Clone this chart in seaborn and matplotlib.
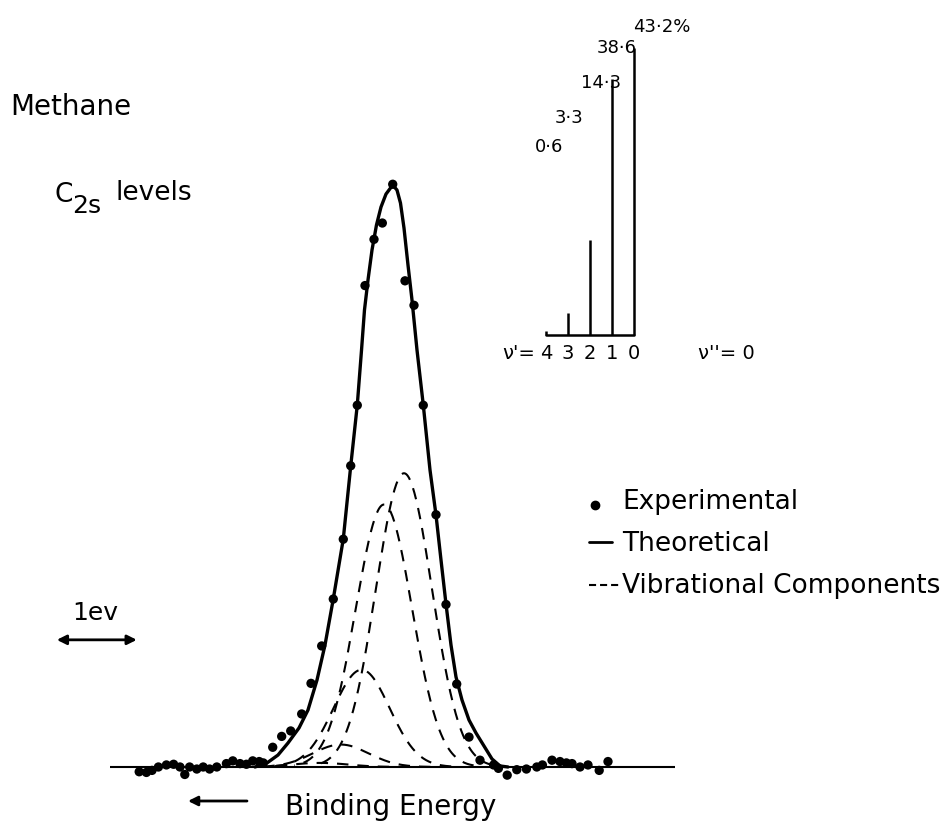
import numpy as np
import pandas as pd
import matplotlib
matplotlib.use("Agg")
import matplotlib.pyplot as plt
from matplotlib.lines import Line2D
from matplotlib import font_manager
import seaborn as sns

# ---------------- data ----------------
# relative energy in eV (positive = higher binding energy, drawn to the left), intensity in %
exp_energy = [3.31, 3.22, 3.15, 3.07, 2.97, 2.88, 2.80, 2.74, 2.68, 2.59, 2.51, 2.43, 2.34,
              2.22, 2.14, 2.05, 1.97, 1.891, 1.81, 1.759, 1.641, 1.529, 1.416, 1.279, 1.1625,
              1.029, 0.884, 0.759, 0.666, 0.584, 0.4875, 0.375, 0.271, 0.141, -0.0125, -0.125,
              -0.241, -0.40, -0.525, -0.659, -0.8125, -0.95, -1.12, -1.18, -1.29, -1.41, -1.53,
              -1.66, -1.73, -1.85, -1.95, -2.03, -2.10, -2.20, -2.30, -2.44, -2.55]
exp_intensity = [-0.7, -0.8, -0.5, 0.0, 0.3, 0.4, 0.0, -1.1, 0.0, -0.3, 0.0, -0.3, 0.0,
                 0.5, 0.9, 0.5, 0.4, 0.9, 0.8, 0.6, 2.9, 4.5, 5.3, 7.8, 12.3,
                 17.8, 24.7, 33.5, 44.3, 53.2, 70.8, 77.6, 80.0, 85.7, 71.5, 67.9,
                 53.2, 37.1, 23.9, 12.2, 4.4, 1.0, 0.3, -0.2, -1.2, -0.4, -0.3,
                 0.0, 0.3, 1.0, 0.8, 0.6, 0.5, 0.0, 0.3, -0.5, 0.8]

theory_energy = [1.8625, 1.7125, 1.575, 1.45, 1.3125, 1.2, 1.0875, 0.9875, 0.884, 0.759,
                 0.666, 0.584, 0.531, 0.494, 0.45, 0.40, 0.344, 0.2875, 0.225, 0.141,
                 0.0875, 0.044, 0.0, -0.05, -0.10, -0.1625, -0.241, -0.325, -0.40, -0.4625,
                 -0.525, -0.5875, -0.65, -0.725, -0.8125, -0.90, -1.0, -1.1, -1.2, -1.3]
theory_intensity = [0.0, 0.59, 1.76, 3.53, 5.74, 8.38, 12.79, 17.94, 24.71, 33.53,
                    44.26, 53.24, 61.32, 67.21, 71.62, 76.03, 79.71, 82.35, 84.26, 85.59,
                    84.85, 82.94, 79.26, 73.82, 68.68, 61.32, 53.24, 43.68, 37.06, 30.44,
                    23.97, 17.94, 13.24, 9.85, 6.91, 5.0, 3.09, 1.18, 0.15, 0.0]

vib_levels = [0, 1, 2, 3, 4]
fc_percent = [43.2, 38.6, 14.3, 3.3, 0.6]
fc_labels = ["43·2%", "38·6", "14·3", "3·3", "0·6"]
component_shift = [0.0, 0.25, 0.53, 0.79, 1.05]   # eV
component_sigma = 0.35                              # eV
baseline_extent = (3.68, -3.39)                     # eV span of the zero line
one_ev = 1.0

# ---------------- layout helpers ----------------
W, H = 950, 822
def fx(x):
    return x / W
def fy(y):
    return 1 - y / H

sns.set_style("white")
plt.rcParams['font.family'] = ['DejaVu Sans']
plt.rcParams['text.color'] = 'black'
names = {f.name for f in font_manager.fontManager.ttflist}
narrow = 'Liberation Sans Narrow' if 'Liberation Sans Narrow' in names else 'DejaVu Sans'
pct_size = 16 if narrow != 'DejaVu Sans' else 13

fig = plt.figure(figsize=(W / 100, H / 100), dpi=100)
fig.patch.set_facecolor('white')

# main spectrum axes
ax = fig.add_axes([0, 0, 1, 1])
ax.set_xlim(5.05, -6.825)
ax.set_ylim(-8.09, 112.8)
ax.axis('off')

# zero line
ax.plot(list(baseline_extent), [0, 0], color='black', lw=1.5, solid_capstyle='butt')

# vibrational components
for shift, pct in zip(component_shift, fc_percent):
    e = np.linspace(shift - 3.2 * component_sigma, shift + 3.2 * component_sigma, 200)
    i = pct * np.exp(-0.5 * ((e - shift) / component_sigma) ** 2)
    sns.lineplot(x=e, y=i, ax=ax, color='black', lw=1.5, sort=False, estimator=None,
                 linestyle=(0, (5.5, 4.3)))

# theoretical curve
theory_df = pd.DataFrame({'E': theory_energy, 'I': theory_intensity})
sns.lineplot(data=theory_df, x='E', y='I', ax=ax, color='black', lw=2.4, sort=False,
             estimator=None)

# experimental points
exp_df = pd.DataFrame({'E': exp_energy, 'I': exp_intensity})
sns.scatterplot(data=exp_df, x='E', y='I', ax=ax, color='black', s=45, edgecolor='none',
                zorder=5)

# 1 eV scale arrow
x0 = 4.34
ax.annotate('', xy=(x0 - one_ev, 18.7), xytext=(x0, 18.7),
            arrowprops=dict(arrowstyle='<|-|>', lw=2, color='black', mutation_scale=14,
                            shrinkA=0, shrinkB=0))
fig.text(fx(72), fy(620), '1ev', fontsize=18, va='baseline', ha='left')

# ---------------- inset: Franck-Condon sticks ----------------
ax2 = fig.add_axes([0, 0, 1, 1], facecolor='none')
ax2.set_xlim(28.82, -14.36)
ax2.set_ylim(-73.34, 50.45)
ax2.axis('off')
ax2.vlines(vib_levels, 0, fc_percent, color='black', lw=1.8)
ax2.plot([max(vib_levels), min(vib_levels)], [0, 0], color='black', lw=1.8)
for v in vib_levels:
    ax2.text(v, -3.6, str(v), fontsize=14, ha='center', va='baseline')
ax2.text(4.5, -3.6, "ν'=", fontsize=14, ha='right', va='baseline')
ax2.text(-2.9, -3.6, "ν''= 0", fontsize=14, ha='left', va='baseline')

pct_pos = [(633, 32), (597, 53), (581, 88), (555, 123), (535, 152)]
for lab, (px, py) in zip(fc_labels, pct_pos):
    fig.text(fx(px), fy(py), lab, fontsize=pct_size, family=narrow, ha='left', va='baseline')

# ---------------- titles ----------------
fig.text(fx(10), fy(115), 'Methane', fontsize=20, ha='left', va='baseline')
fig.text(fx(55), fy(202), 'C', fontsize=19, ha='left', va='baseline')
fig.text(fx(72), fy(213), '2s', fontsize=18, ha='left', va='baseline')
fig.text(fx(115), fy(200), 'levels', fontsize=19, ha='left', va='baseline')

# ---------------- legend ----------------
fig.add_artist(Line2D([fx(595)], [fy(505)], marker='o', ms=6, color='black', lw=0))
fig.add_artist(Line2D([fx(589), fx(612)], [fy(542), fy(542)], color='black', lw=2))
fig.add_artist(Line2D([fx(589), fx(619)], [fy(585), fy(585)], color='black', lw=1.5,
                      linestyle=(0, (3.4, 1.9))))
fig.text(fx(622), fy(509), 'Experimental', fontsize=19, ha='left', va='baseline')
fig.text(fx(622), fy(551), 'Theoretical', fontsize=19, ha='left', va='baseline')
fig.text(fx(622), fy(593), 'Vibrational Components', fontsize=19, ha='left', va='baseline')

# ---------------- binding energy label ----------------
ax.annotate('', xy=(fx(188), fy(801)), xytext=(fx(247), fy(801)),
            xycoords='figure fraction', textcoords='figure fraction',
            arrowprops=dict(arrowstyle='-|>', lw=2, color='black', mutation_scale=14,
                            shrinkA=0, shrinkB=0))
fig.text(fx(285), fy(815), 'Binding Energy', fontsize=20, ha='left', va='baseline')

fig.savefig('out.png', dpi=100, facecolor='white')
